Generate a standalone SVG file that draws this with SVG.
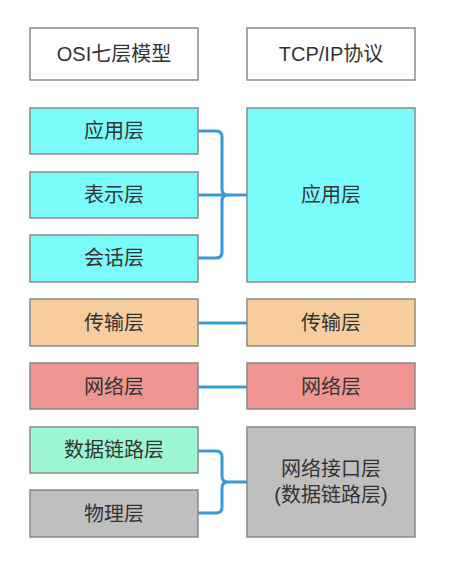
<svg xmlns="http://www.w3.org/2000/svg" width="456" height="569" viewBox="0 0 456 569">
<style>
.box{stroke:#8a8a8a;stroke-width:1.5}
.t{font-family:"Liberation Sans","Noto Sans CJK SC",sans-serif;font-size:20px;fill:#333;text-anchor:middle;dominant-baseline:central}
.c{fill:none;stroke:#3a9ad9;stroke-width:3}
.cy{fill:#7afcfc}.or{fill:#f8cd9e}.rd{fill:#ef9693}.gr{fill:#9bf6d1}.gy{fill:#bfbfbf}.wh{fill:#fff}
</style>
<rect width="456" height="569" fill="#fff"/>
<g id="connectors">
<path class="c" d="M198 131 H216 Q222 131 222 137 V189 Q222 195 228 195 H247 M198 195 H228 M198 258 H216 Q222 258 222 252 V201 Q222 195 228 195"/>
<path class="c" d="M198 323 H247 M198 387 H247"/>
<path class="c" d="M198 451 H216 Q222 451 222 457 V476 Q222 482 228 482 H247 M198 513 H216 Q222 513 222 507 V488 Q222 482 228 482"/>
</g>
<g id="osi-title"><rect class="box wh" x="30" y="28" width="168" height="52"/><text class="t" x="114" y="54">OSI七层模型</text></g>
<g id="tcpip-title"><rect class="box wh" x="247" y="28" width="168" height="52"/><text class="t" x="331" y="54">TCP/IP协议</text></g>
<g id="osi-app"><rect class="box cy" x="30" y="108" width="168" height="46"/><text class="t" x="114" y="131">应用层</text></g>
<g id="osi-pres"><rect class="box cy" x="30" y="172" width="168" height="46"/><text class="t" x="114" y="195">表示层</text></g>
<g id="osi-sess"><rect class="box cy" x="30" y="235" width="168" height="47"/><text class="t" x="114" y="258">会话层</text></g>
<g id="tcp-app"><rect class="box cy" x="247" y="108" width="168" height="174"/><text class="t" x="331" y="195">应用层</text></g>
<g id="osi-trans"><rect class="box or" x="30" y="299" width="168" height="47"/><text class="t" x="114" y="323">传输层</text></g>
<g id="tcp-trans"><rect class="box or" x="247" y="299" width="168" height="47"/><text class="t" x="331" y="323">传输层</text></g>
<g id="osi-net"><rect class="box rd" x="30" y="363" width="168" height="46"/><text class="t" x="114" y="387">网络层</text></g>
<g id="tcp-net"><rect class="box rd" x="247" y="363" width="168" height="46"/><text class="t" x="331" y="387">网络层</text></g>
<g id="osi-link"><rect class="box gr" x="30" y="427" width="168" height="46"/><text class="t" x="114" y="450">数据链路层</text></g>
<g id="osi-phys"><rect class="box gy" x="30" y="490" width="168" height="47"/><text class="t" x="114" y="514">物理层</text></g>
<g id="tcp-netif"><rect class="box gy" x="247" y="427" width="168" height="110"/><text class="t" x="331" y="469">网络接口层</text><text class="t" x="331" y="495">(数据链路层)</text></g>
</svg>
